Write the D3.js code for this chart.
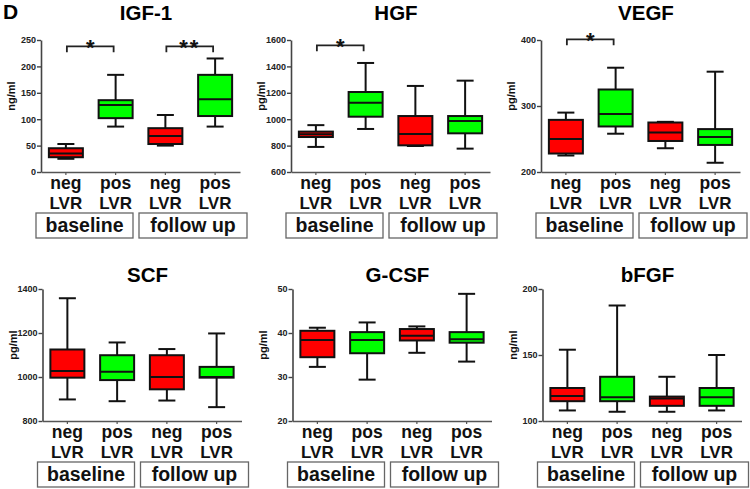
<!DOCTYPE html>
<html><head><meta charset="utf-8">
<script src="https://cdn.jsdelivr.net/npm/d3@7"></script>
<style>
html,body{margin:0;padding:0;background:#fff;}
svg text{font-family:"Liberation Sans",Arial,sans-serif;font-weight:bold;}
</style></head>
<body><svg id="c" width="750" height="489"></svg>
<script>
// ---- data ----
const categories = ["neg", "pos", "neg", "pos"];
const subLabel = "LVR";
const periods = ["baseline", "follow up"];
const seriesColors = ["#ff0000", "#00ff00", "#ff0000", "#00ff00"];
// each box: [min, q1, median, q3, max]
const igf1 = [[25,28,35,45,53],[86,102,127,136,184],[50,53,68,83,108],[86,106,138,184,215]];
const hgf  = [[790,865,886,906,955],[926,1019,1125,1206,1426],[797,802,888,1024,1252],[777,893,986,1024,1292]];
const vegf = [[225,228,250,279,290],[258,269,288,325,358],[236,247,260,275,276],[214,241,253,265,352]];
const scf  = [[898,997,1027,1125,1358],[890,986,1024,1099,1157],[893,944,1000,1099,1127],[863,997,1000,1046,1198]];
const gcsf = [[32.3,34.5,38.4,40.5,41.2],[29.4,35.4,38.4,40.2,42.4],[35.5,38.3,39.4,40.9,41.5],[33.5,37.8,38.6,40.2,48.9]];
const bfgf = [[108,115,119,125,154],[107,115,118,133.5,187.5],[107,111.5,117,118.5,133.5],[108,111.5,118,125,150]];

const titles = ["IGF-1", "HGF", "VEGF", "SCF", "G-CSF", "bFGF"];
const units  = ["ng/ml", "pg/ml", "pg/ml", "pg/ml", "pg/ml", "ng/ml"];
const domains = [[0,250],[600,1600],[200,400],[800,1400],[20,50],[100,200]];
const tickSets = [[0,50,100,150,200,250],[600,800,1000,1200,1400,1600],[200,300,400],[800,1000,1200,1400],[20,30,40,50],[100,150,200]];
const igf1Sig = [{from:0,to:1,label:"*",at:238},{from:2,to:3,label:"**",at:238}];
const hgfSig  = [{from:0,to:1,label:"*",at:1560}];
const vegfSig = [{from:0,to:1,label:"*",at:401}];
const panelLetter = "D";

const datasets = [igf1, hgf, vegf, scf, gcsf, bfgf];
const sigs = [igf1Sig, hgfSig, vegfSig, [], [], []];

// ---- layout ----
const svg = d3.select("#c");
svg.append("text").attr("x", 3).attr("y", 19).attr("font-size", 21).attr("fill", "#000").text(panelLetter);

const rows = [
  {oy: 0,   titleY: 20,  dx: 0},
  {oy: 249, titleY: 282, dx: 1.5}
];

datasets.forEach((data, p) => {
  const row = rows[Math.floor(p / 3)];
  const ox = (p % 3) * 250 + row.dx;
  const oy = row.oy;
  const g = svg.append("g").attr("transform", `translate(${ox},${oy})`);

  const y = d3.scaleLinear().domain(domains[p]).range([172, 40]);
  const x = d3.scaleBand().domain(d3.range(categories.length)).range([41, 240]);
  const bw = x.bandwidth();
  const cx = i => x(i) + bw / 2;
  const boxW = 34, capW = 17;

  // title
  svg.append("text").attr("x", ox + 146).attr("y", row.titleY)
    .attr("text-anchor", "middle").attr("font-size", 20.5).attr("fill", "#000").text(titles[p]);

  // y axis
  const ya = g.append("g").attr("transform", "translate(41,0)")
    .call(d3.axisLeft(y).tickValues(tickSets[p]).tickSize(4).tickSizeOuter(0).tickPadding(1).tickFormat(d3.format("d")));
  ya.select(".domain").attr("stroke", "#444").attr("stroke-width", 1.6);
  ya.selectAll(".tick line").attr("stroke", "#444").attr("stroke-width", 1.4);
  ya.selectAll(".tick text").attr("font-size", 9).attr("fill", "#222")
    .style("font-family", '"Liberation Sans",Arial,sans-serif').style("font-weight", "bold");

  // x axis
  const xa = g.append("g").attr("transform", "translate(0,172)")
    .call(d3.axisBottom(x).tickSize(3).tickSizeOuter(0).tickFormat(""));
  xa.select(".domain").attr("stroke", "#555").attr("stroke-width", 1.6);
  xa.selectAll(".tick line").attr("stroke", "#555").attr("stroke-width", 1.2);

  // y label
  g.append("text").attr("transform", "translate(15,96) rotate(-90)")
    .attr("text-anchor", "middle").attr("font-size", 11).attr("fill", "#111").text(units[p]);

  // boxes
  data.forEach((b, i) => {
    const [mn, q1, md, q3, mx] = b;
    const c = cx(i);
    const bg = g.append("g").attr("stroke", "#111").attr("stroke-width", 2);
    bg.append("line").attr("x1", c).attr("x2", c).attr("y1", y(mx)).attr("y2", y(q3));
    bg.append("line").attr("x1", c).attr("x2", c).attr("y1", y(q1)).attr("y2", y(mn));
    bg.append("line").attr("x1", c - capW/2).attr("x2", c + capW/2).attr("y1", y(mx)).attr("y2", y(mx));
    bg.append("line").attr("x1", c - capW/2).attr("x2", c + capW/2).attr("y1", y(mn)).attr("y2", y(mn));
    bg.append("rect").attr("x", c - boxW/2).attr("width", boxW)
      .attr("y", y(q3)).attr("height", y(q1) - y(q3)).attr("fill", seriesColors[i]);
    bg.append("line").attr("x1", c - boxW/2).attr("x2", c + boxW/2).attr("y1", y(md)).attr("y2", y(md));
  });

  // category labels
  categories.forEach((cat, i) => {
    g.append("text").attr("x", cx(i)).attr("y", 189).attr("text-anchor", "middle")
      .attr("font-size", 17.5).attr("fill", "#111").text(cat);
    g.append("text").attr("x", cx(i)).attr("y", 208.5).attr("text-anchor", "middle")
      .attr("font-size", 17).attr("fill", "#111").text(subLabel);
  });

  // period boxes
  periods.forEach((per, k) => {
    const x0 = k === 0 ? x(0) - 5 : x(2) - 1.5;
    const x1 = k === 0 ? x(1) + bw - 7.5 : x(3) + bw + 7;
    g.append("rect").attr("x", x0).attr("y", 213).attr("width", x1 - x0).attr("height", 25)
      .attr("fill", "#fff").attr("stroke", "#666").attr("stroke-width", 1.3);
    g.append("text").attr("x", (x0 + x1) / 2).attr("y", 232).attr("text-anchor", "middle")
      .attr("font-size", 19.5).attr("fill", "#111").text(per);
  });

  // significance brackets
  sigs[p].forEach(s => {
    const yy = y(s.at), a = cx(s.from) + 1, b2 = cx(s.to) - 2;
    g.append("path").attr("d", `M${a},${yy + 6}V${yy}H${b2}V${yy + 6}`)
      .attr("fill", "none").attr("stroke", "#222").attr("stroke-width", 1.8);
    g.append("text").attr("x", (a + b2) / 2).attr("y", yy + 9).attr("text-anchor", "middle")
      .attr("font-size", 22).attr("letter-spacing", s.label.length > 1 ? 2 : 0)
      .attr("fill", "#111").text(s.label);
  });
});
</script></body></html>
